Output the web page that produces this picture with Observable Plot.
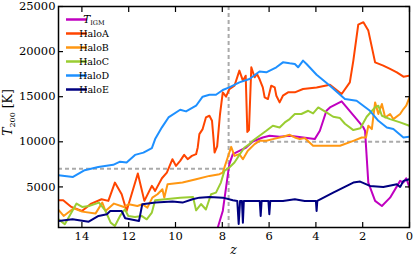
<!DOCTYPE html>
<html>
<head>
<meta charset="utf-8">
<script src="https://cdn.jsdelivr.net/npm/d3@7"></script>
<script src="https://cdn.jsdelivr.net/npm/@observablehq/plot@0.6"></script>
<style>
  html, body { margin: 0; padding: 0; background: #fff; }
  #chart { width: 415px; height: 260px; position: relative; }
</style>
</head>
<body>
<div id="chart"></div>
<script>
// ---- data ----
const seriesNames = ["TIGM", "HaloA", "HaloB", "HaloC", "HaloD", "HaloE"];
const seriesColors = ["#c000c0", "#ff4500", "#ff9712", "#9acd32", "#1e90ff", "#000080"];

const zIGM = [8.25, 7.98, 7.84, 7.7, 7.55, 7.27, 6.98, 6.7, 6.27, 5.98, 5.55, 5.12, 4.05, 3.83, 3.55, 3.4, 2.9, 2.26, 1.97, 1.9, 1.76, 1.47, 1.18, 0.83, 0.4, 0.26, 0.14, 0.0];
const tIGM = [0, 2330, 4930, 7520, 8630, 9000, 9370, 10030, 10480, 10670, 10560, 10670, 10300, 11220, 13440, 13810, 14480, 12520, 11590, 11220, 5480, 3450, 2890, 3810, 5670, 5480, 5960, 4930];

const zA = [15, 14.8, 14.45, 14.0, 13.6, 13.16, 12.87, 12.59, 12.3, 12.09, 11.61, 11.33, 11.01, 10.87, 10.58, 10.37, 10.13, 9.98, 9.8, 9.63, 9.48, 9.3, 9.12, 9.05, 8.98, 8.84, 8.7, 8.55, 8.44, 8.38, 8.33, 8.22, 8.1, 7.98, 7.84, 7.7, 7.48, 7.27, 7.12, 7.0, 6.93, 6.86, 6.76, 6.62, 6.52, 6.41, 6.27, 6.19, 6.05, 5.91, 5.76, 5.69, 5.55, 5.41, 5.19, 4.9, 4.55, 3.97, 3.4, 2.9, 2.55, 2.4, 2.19, 1.97, 1.76, 1.47, 1.12, 0.83, 0.54, 0.26, 0.0];
const tA = [3520, 3520, 2780, 2330, 3150, 3630, 3450, 5480, 4190, 2330, 6480, 3450, 5120, 4560, 5960, 6590, 8070, 7330, 7890, 8550, 8070, 8440, 8630, 9370, 10850, 11410, 12700, 12890, 12330, 10500, 8810, 9500, 13000, 15480, 15000, 15850, 16220, 17890, 16780, 17330, 11100, 11300, 18260, 17150, 17520, 16960, 16030, 14920, 14740, 16220, 16030, 15110, 14370, 15110, 15480, 15480, 15850, 16030, 16330, 15300, 16590, 19000, 23000, 23260, 22330, 18810, 18440, 18080, 17700, 17220, 17330];

const zB = [15, 14.78, 14.35, 13.99, 13.42, 13.13, 12.99, 12.63, 12.2, 11.99, 11.63, 11.42, 11.2, 10.99, 10.77, 10.56, 10.48, 10.34, 9.7, 9.12, 8.55, 8.12, 7.98, 7.77, 7.62, 7.48, 7.27, 7.12, 6.91, 6.62, 6.41, 6.12, 5.84, 5.41, 5.12, 4.9, 4.69, 4.48, 4.12, 2.97, 2.4, 2.04, 1.86, 1.76, 1.61, 1.47, 1.33, 1.18, 1.04, 0.83, 0.69, 0.4, 0.26, 0.14, 0.0];
const tB = [2450, 1780, 2630, 2260, 2040, 3260, 2330, 3150, 2780, 3080, 2890, 3080, 2700, 3810, 4190, 4740, 3810, 5300, 5480, 5850, 6220, 6410, 6590, 8260, 9440, 8440, 8630, 8070, 9000, 9740, 10110, 10110, 10300, 10560, 10780, 10480, 10300, 10410, 9560, 9560, 10110, 10480, 10480, 11780, 11410, 14370, 13080, 14190, 12700, 13080, 12520, 13080, 13630, 14000, 14920];

const zC = [15, 14.73, 14.23, 13.99, 13.7, 13.27, 12.99, 12.77, 12.59, 12.37, 12.16, 12.02, 11.73, 11.45, 11.23, 11.01, 10.87, 10.44, 9.8, 9.25, 9.12, 8.91, 8.7, 8.48, 8.27, 8.06, 7.91, 7.7, 7.48, 7.2, 7.05, 6.84, 6.7, 6.41, 6.12, 5.84, 5.55, 5.33, 5.12, 4.9, 4.62, 4.33, 4.12, 3.9, 3.55, 3.26, 2.97, 2.76, 2.4, 2.1, 1.83, 1.6, 1.47, 1.33, 1.18, 0.83, 0.4, 0.0];
const tC = [1410, 860, 3150, 2780, 2890, 3260, 2330, 1040, 670, 1780, 2520, 1780, 1670, 1780, 1410, 2150, 3520, 3630, 3810, 3890, 2400, 3100, 2500, 4190, 4370, 5480, 6780, 7150, 7700, 8810, 9370, 9740, 10110, 10670, 11220, 11780, 11590, 12150, 12520, 13080, 13080, 13440, 13150, 13810, 13260, 12780, 12630, 12000, 11300, 11500, 12780, 13440, 13810, 14000, 12890, 12520, 12150, 11780];

const zD = [15, 14.38, 13.88, 13.3, 12.66, 12.37, 12.09, 11.73, 11.37, 11.01, 10.87, 10.58, 10.3, 9.8, 9.55, 9.12, 8.84, 8.55, 8.27, 7.98, 7.7, 7.27, 6.84, 6.41, 6.12, 5.69, 5.41, 5.12, 4.9, 4.76, 4.55, 4.4, 3.97, 3.4, 2.76, 2.26, 1.69, 1.33, 0.97, 0.69, 0.26, 0.0];
const tD = [6300, 6100, 6850, 7200, 7450, 7800, 7700, 8550, 8800, 9300, 10300, 11600, 12700, 13550, 13370, 14000, 15000, 15220, 15220, 15740, 16030, 16590, 16960, 17800, 17700, 18260, 18810, 18700, 18630, 18260, 19000, 18630, 17440, 16220, 14740, 14560, 13440, 12330, 11590, 11410, 10480, 10560];

const zE = [15, 14.4, 13.71, 13.29, 12.93, 12.79, 12.3, 12.15, 11.56, 11.42, 10.85, 10.13, 9.7, 9.27, 8.98, 8.55, 7.98, 7.55, 7.36, 7.3, 7.24, 7.16, 7.12, 7.08, 6.62, 6.4, 6.36, 6.32, 6.03, 5.99, 5.95, 5.41, 4.9, 4.48, 4.0, 3.97, 3.94, 3.26, 2.4, 2.11, 1.69, 1.12, 0.54, 0.4, 0.26, 0.0];
const tE = [1220, 1410, 1150, 1780, 1970, 2330, 2330, 1520, 1220, 3080, 3260, 3370, 3260, 3630, 3810, 3890, 3810, 3520, 3450, 890, 3450, 3450, 1030, 3450, 3450, 3450, 1780, 3450, 3450, 1970, 3450, 3450, 3630, 3450, 3450, 2330, 3450, 4370, 5480, 5590, 5110, 5000, 5300, 5000, 5670, 5850];

const zCut = [7.73];
const tLow = [7000];
const tHigh = [10000];

const xTicks = [0, 2, 4, 6, 8, 10, 12, 14];
const yTicks = [5000, 10000, 15000, 20000, 25000];
const legendLabels = ["IGM", "HaloA", "HaloB", "HaloC", "HaloD", "HaloE"];

// ---- build table ----
const zs = [zIGM, zA, zB, zC, zD, zE];
const ts = [tIGM, tA, tB, tC, tD, tE];
const rows = [];
seriesNames.forEach((name, i) => {
  zs[i].forEach((z, j) => rows.push({series: name, z, t: ts[i][j]}));
});

const dash = {stroke: "#aaaaaa", strokeWidth: 2, strokeDasharray: "4,3"};
const font = "DejaVu Serif";
const plain = d => String(d);

const plot = Plot.plot({
  width: 415,
  height: 260,
  marginLeft: 58,
  marginRight: 6,
  marginTop: 6,
  marginBottom: 33,
  style: {fontFamily: font, fontSize: "11px", background: "#fff", color: "#000"},
  x: {domain: [15, 0], label: null},
  y: {domain: [500, 25000], label: null},
  color: {domain: seriesNames, range: seriesColors},
  marks: [
    Plot.ruleX(zCut, {x: d => d, ...dash}),
    Plot.ruleY(tLow, {y: d => d, x1: 15, x2: zCut[0], ...dash}),
    Plot.ruleY(tHigh, {y: d => d, x1: zCut[0], x2: 0, ...dash}),
    Plot.line(rows, {x: "z", y: "t", z: "series", stroke: "series", strokeWidth: 2, clip: true, curve: "linear"}),
    Plot.frame({stroke: "#000", strokeWidth: 1.5}),
    Plot.axisX(xTicks, {anchor: "bottom", tickSize: 0, tickPadding: 4, fontSize: 11.5, tickFormat: plain}),
    Plot.axisX(xTicks, {anchor: "bottom", tickSize: -5, strokeWidth: 1.2, tickFormat: () => ""}),
    Plot.axisX(xTicks, {anchor: "top", tickSize: -5, strokeWidth: 1.2, tickFormat: () => ""}),
    Plot.axisY(yTicks, {anchor: "left", tickSize: 0, tickPadding: 3, fontSize: 11.5, tickFormat: plain}),
    Plot.axisY(yTicks, {anchor: "left", tickSize: -5, strokeWidth: 1.2, tickFormat: () => ""}),
    Plot.axisY(yTicks, {anchor: "right", tickSize: -5, strokeWidth: 1.2, tickFormat: () => ""})
  ]
});

document.getElementById("chart").appendChild(plot);

// ---- labels and legend (text) ----
const svg = d3.select(plot);
const xr = plot.scale("x").range;
const yr = plot.scale("y").range;

const ylab = svg.append("text")
  .attr("transform", `translate(12,${(yr[0] + yr[1]) / 2 - 4}) rotate(-90)`)
  .attr("text-anchor", "middle")
  .attr("font-family", font)
  .attr("font-size", 12.5)
  .attr("fill", "#000");
ylab.append("tspan").attr("font-style", "italic").text("T");
ylab.append("tspan").attr("font-size", 8).attr("dy", 3).text("200");
ylab.append("tspan").attr("dy", -3).text(" [K]");

svg.append("text")
  .attr("x", (xr[0] + xr[1]) / 2)
  .attr("y", 254)
  .attr("text-anchor", "middle")
  .attr("font-family", font)
  .attr("font-style", "italic")
  .attr("font-size", 12.5)
  .attr("fill", "#000")
  .text("z");

const lg = svg.append("g").attr("font-family", font).attr("font-size", 9.5).attr("fill", "#000");
legendLabels.forEach((lab, i) => {
  const y = 19.5 + i * 14;
  lg.append("line").attr("x1", 66).attr("x2", 87).attr("y1", y).attr("y2", y)
    .attr("stroke", seriesColors[i]).attr("stroke-width", 2.5);
  const t = lg.append("text").attr("x", 94).attr("y", y).attr("dy", "0.35em");
  if (i === 0) {
    t.append("tspan").attr("font-style", "italic").attr("font-size", 10.5).text("T");
    t.append("tspan").attr("font-size", 6.5).attr("dy", 2).text(lab);
  } else {
    t.text(lab);
  }
});
</script>
</body>
</html>
